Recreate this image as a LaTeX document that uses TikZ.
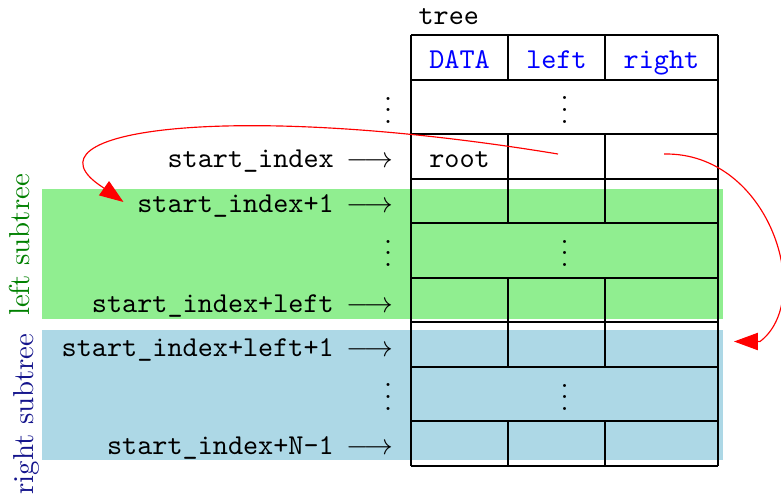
\documentclass[tikz,border=0pt]{standalone}
\usetikzlibrary{arrows.meta}
\definecolor{lgreen}{RGB}{144,238,144}
\definecolor{lblue}{RGB}{173,216,230}
\definecolor{dgreen}{RGB}{0,128,0}
\definecolor{dnavy}{RGB}{20,20,140}
\newcommand{\idxarrow}{\hspace{4.4pt}$\longrightarrow$}
\begin{document}
\begin{tikzpicture}[x=0.3472pt,y=-0.3472pt,
  lbl/.style={anchor=base east,inner sep=0pt,font=\ttfamily},
  hdr/.style={anchor=base,inner sep=0pt,font=\ttfamily,text=blue},
  cell/.style={anchor=base,inner sep=0pt,font=\ttfamily},
  dts/.style={anchor=base,inner sep=0pt},
  gridline/.style={draw=black,line width=0.4pt},
  link/.style={draw=red,line width=0.4pt,-{Triangle[length=8.3pt,width=6pt]}},
  side/.style={rotate=90,anchor=base,inner sep=0pt}]
\useasboundingbox (0,0) rectangle (781,498);
% bands
\fill[lgreen] (42,189) rectangle (723,319);
\fill[lblue] (42,330) rectangle (723,460);
% table grid
\foreach \yy in {35,80,134,179,223,278,322,367,421,466}
  \draw[gridline] (411,\yy) -- (718,\yy);
\draw[gridline] (411,35) -- (411,466);
\draw[gridline] (718,35) -- (718,466);
\foreach \ya/\yb in {35/80,134/223,278/367,421/466}{
  \draw[gridline] (508,\ya) -- (508,\yb);
  \draw[gridline] (605,\ya) -- (605,\yb);
}
% table texts
\node[cell,anchor=base west] (tree) at (418,24) {tree};
\node[hdr] (hdata) at (459.5,68) {DATA};
\node[hdr] (hleft) at (556.5,68) {left};
\node[hdr] (hright) at (661.5,68) {right};
\node[cell] (root) at (459.5,167) {root};
\node[dts] (tdots1) at (564.5,123) {$\vdots$};
\node[dts] (tdots2) at (564.5,266.5) {$\vdots$};
\node[dts] (tdots3) at (564.5,410.5) {$\vdots$};
% index labels
\node[dts] (ldots0) at (388,123.5) {$\vdots$};
\node[lbl] (l0) at (393.5,167) {start\_index\idxarrow};
\node[lbl] (l1) at (393.5,212) {start\_index+1\idxarrow};
\node[dts] (ldots1) at (388,266.5) {$\vdots$};
\node[lbl] (l2) at (393.5,312) {start\_index+left\idxarrow};
\node[lbl] (l3) at (393.5,356) {start\_index+left+1\idxarrow};
\node[dts] (ldots2) at (388,410) {$\vdots$};
\node[lbl] (l4) at (393.5,454) {start\_index+N-1\idxarrow};
% side labels
\node[side,text=dgreen] (lsub) at (29.5,245) {left subtree};
\node[side,text=dnavy] (rsub) at (33.5,414) {right subtree};
% red links
\coordinate (p1) at (558,154);
\coordinate (m1) at (102.3,187);
\coordinate (q1) at (123.5,202);
\draw[link] (p1) .. controls (230,100) and (15,130) .. (m1) -- (q1);
\coordinate (p2) at (664,154);
\coordinate (m2) at (760,341.5);
\coordinate (q2) at (734,341.5);
\draw[link] (p2) .. controls (770,152) and (815,300) .. (m2) -- (q2);
\end{tikzpicture}
\end{document}
